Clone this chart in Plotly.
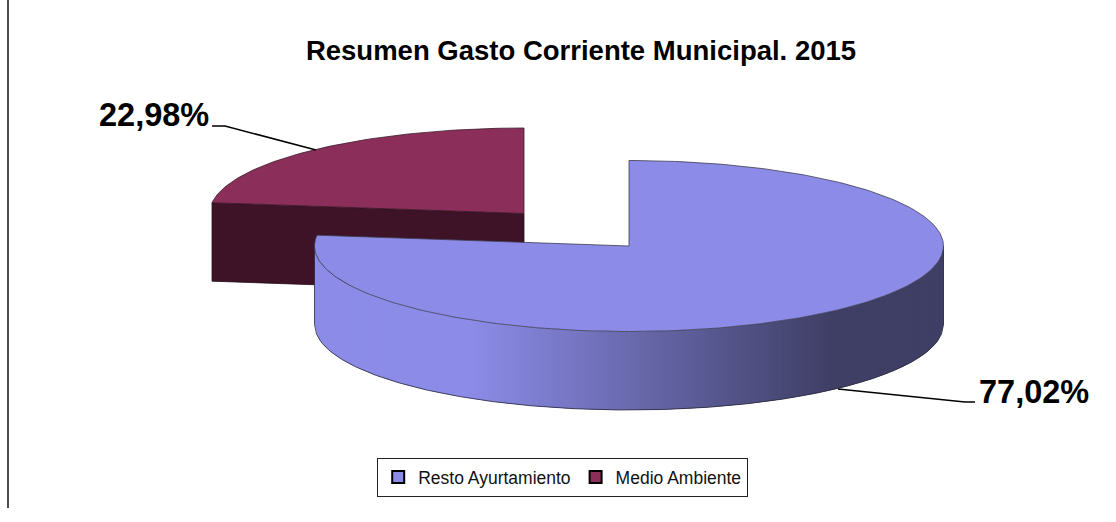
import numpy as np
import plotly.graph_objects as go

categories = ["Resto Ayurtamiento", "Medio Ambiente"]
values = [77.02, 22.98]
labels = ["77,02%", "22,98%"]
title_text = "Resumen Gasto Corriente Municipal. 2015"

FONT = "Liberation Sans, Arial, sans-serif"
BLUE, BLUE_DARK = (140, 140, 232), (63, 63, 102)
RED, RED_DARK = "#8C2E5A", "#3F1327"
EDGE = "#2a2a3a"
RX, RY, DEPTH = 314.5, 85.5, 78.5
BLUE_C = (629, 246)
RED_C = (524, 213.5)

shares = np.array(values) / sum(values) * 2 * np.pi
split = shares[0]


def ell(c, t, dy=0):
    return c[0] + RX * np.sin(t), c[1] - RY * np.cos(t) + dy


def poly(x, y, fill, line=EDGE, w=0.8):
    return go.Scatter(
        x=list(x), y=list(y), mode="lines", fill="toself", fillcolor=fill,
        line=dict(color=line, width=w), hoverinfo="skip", showlegend=False,
    )


fig = go.Figure()

# Medio Ambiente: cut face (side wall) then top
p = ell(RED_C, split)
fig.add_trace(poly(
    [RED_C[0], p[0], p[0], RED_C[0], RED_C[0]],
    [RED_C[1], p[1], p[1] + DEPTH, RED_C[1] + DEPTH, RED_C[1]],
    RED_DARK, line="#22101a",
))
t = np.linspace(split, 2 * np.pi, 80)
x, y = ell(RED_C, t)
fig.add_trace(poly(np.r_[RED_C[0], x, RED_C[0]], np.r_[RED_C[1], y, RED_C[1]], RED, line="#3a1a2a"))

# Resto Ayuntamiento: curved wall as a horizontal gradient of overlapping strips,
# painted left to right, so no seams show between them
u = np.linspace(-1, 1, 316)
t_wall = np.pi - np.arcsin(u)
GRAD_L, GRAD_R = 470, 830
for i in range(len(t_wall) - 1):
    a, b = t_wall[i], t_wall[min(i + 2, len(t_wall) - 1)]
    xa, ya = ell(BLUE_C, a)
    xb, yb = ell(BLUE_C, b)
    f = np.clip((xa + 1 - GRAD_L) / (GRAD_R - GRAD_L), 0, 1)
    c = [round(l + (d - l) * f) for l, d in zip(BLUE, BLUE_DARK)]
    col = f"rgb({c[0]},{c[1]},{c[2]})"
    fig.add_trace(poly([xa, xb, xb, xa, xa], [ya, yb, yb + DEPTH, ya + DEPTH, ya], col, line=col, w=0))

# wall outline
xw, yw = ell(BLUE_C, t_wall, DEPTH)
xl, yl = ell(BLUE_C, t_wall[[0, -1]])
fig.add_trace(go.Scatter(x=[xl[0], *xw, xl[1]], y=[yl[0], *yw, yl[1]], mode="lines",
                         line=dict(color=EDGE, width=0.8), hoverinfo="skip", showlegend=False))

# top of the big slice
t = np.linspace(0, split, 300)
x, y = ell(BLUE_C, t)
fig.add_trace(poly(np.r_[BLUE_C[0], x, BLUE_C[0]], np.r_[BLUE_C[1], y, BLUE_C[1]],
                   f"rgb{BLUE}", line="#3c3c50"))

# legend entries
for name, col in zip(categories, [f"rgb{BLUE}", RED]):
    fig.add_trace(go.Scatter(x=[None], y=[None], mode="markers", name=name,
                             marker=dict(symbol="square", size=9, color=col, line=dict(color="black", width=2))))

shapes = [
    dict(type="line", x0=8, x1=8, y0=0, y1=508, line=dict(color="#111", width=1.5)),
]
# leader lines
for xs, ys in [([212, 225, 316], [126, 126, 150]), ([838, 965, 975], [389, 402, 402])]:
    fig.add_trace(go.Scatter(x=xs, y=ys, mode="lines", line=dict(color="black", width=1.5),
                             hoverinfo="skip", showlegend=False))

annotations = [
    dict(x=1091, y=392, text=labels[0], xanchor="right", yanchor="middle"),
    dict(x=211, y=115, text=labels[1], xanchor="right", yanchor="middle"),
]
for a in annotations:
    a.update(showarrow=False, xref="x", yref="y", font=dict(family=FONT, size=32.5, color="black"))
    a["text"] = f"<b>{a['text']}</b>"

fig.update_layout(
    width=1116, height=522, margin=dict(l=0, r=0, t=0, b=0),
    paper_bgcolor="white", plot_bgcolor="white",
    xaxis=dict(range=[0, 1116], visible=False, fixedrange=True),
    yaxis=dict(range=[522, 0], visible=False, fixedrange=True),
    title=dict(text=f"<b>{title_text}</b>", x=581 / 1116, xanchor="center", y=1 - 50 / 522, yanchor="middle",
               font=dict(family=FONT, size=27.5, color="black")),
    legend=dict(orientation="h", x=377 / 1116, xanchor="left", y=1 - 458 / 522, yanchor="top",
                bgcolor="white", bordercolor="#222", borderwidth=1.2,
                font=dict(family=FONT, size=17.5, color="#111"), itemsizing="constant"),
    shapes=shapes, annotations=annotations,
)
fig.write_html("out.html", config=dict(displayModeBar=False),
               post_script="document.body.style.margin='0';")
